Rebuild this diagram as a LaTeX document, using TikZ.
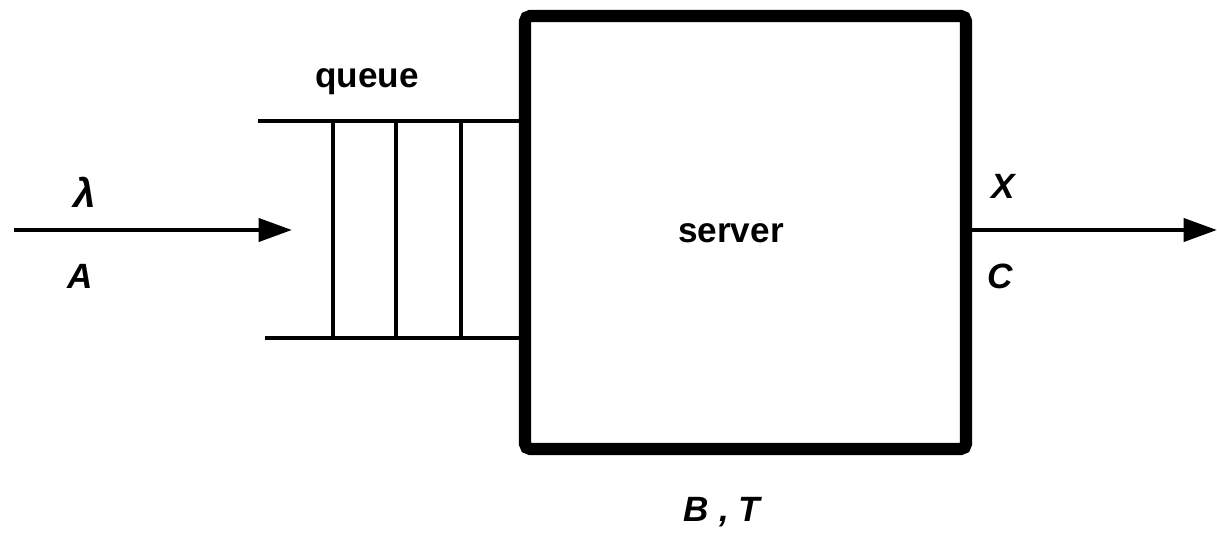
\documentclass[tikz,border=0pt]{standalone}
\usepackage{fontspec}
\setmainfont{Liberation Sans}
\usetikzlibrary{arrows.meta}
\begin{document}
\begin{tikzpicture}[x=0.02cm,y=-0.02cm,
  txt/.style={font=\fontsize{20}{24}\selectfont\bfseries, inner sep=0pt},
  sym/.style={font=\fontsize{20}{24}\selectfont\bfseries\itshape, inner sep=0pt},
  flow/.style={line width=2.6pt, -{Triangle[length=19pt,width=13pt]}},
  qline/.style={line width=2pt},
  serverbox/.style={draw, line width=7pt, rounded corners=3pt,
    minimum width=8.82cm, minimum height=8.66cm, inner sep=0pt}]
  \useasboundingbox (0,0) rectangle (1217,533);

  % server
  \node[serverbox] (server) at (745.5,232.5) {};
  \node[txt] (srvlabel) at (731,233) {server};
  \node[sym] (bt) at (722,512) {B , T};

  % queue
  \coordinate (qtl) at (258,121);
  \coordinate (qbl) at (265,338);
  \draw[qline] (qtl) -- (qtl -| server.west);
  \draw[qline] (qbl) -- (qbl -| server.west);
  \foreach \x/\n in {333/a,396/b,461/c} {
    \coordinate (slot\n t) at (\x,121);
    \coordinate (slot\n b) at (\x,338);
    \draw[qline] (slot\n t) -- (slot\n b);
  }
  \node[txt] (qlabel) at (367,82) {queue};

  % arrivals
  \coordinate (src) at (14,230);
  \coordinate (qin) at (292,230);
  \draw[flow] (src) -- (qin);
  \node[font=\fontsize{23}{27}\selectfont\bfseries\itshape, inner sep=0pt] (lam) at (85,192) {λ};
  \node[sym] (arr) at (80,276) {A};

  % departures
  \coordinate (sink) at (1217,230);
  \draw[flow] (server.east |- sink) -- (sink);
  \node[sym] (thr) at (1003,186) {X};
  \node[sym] (cmp) at (1000,276) {C};
\end{tikzpicture}
\end{document}
